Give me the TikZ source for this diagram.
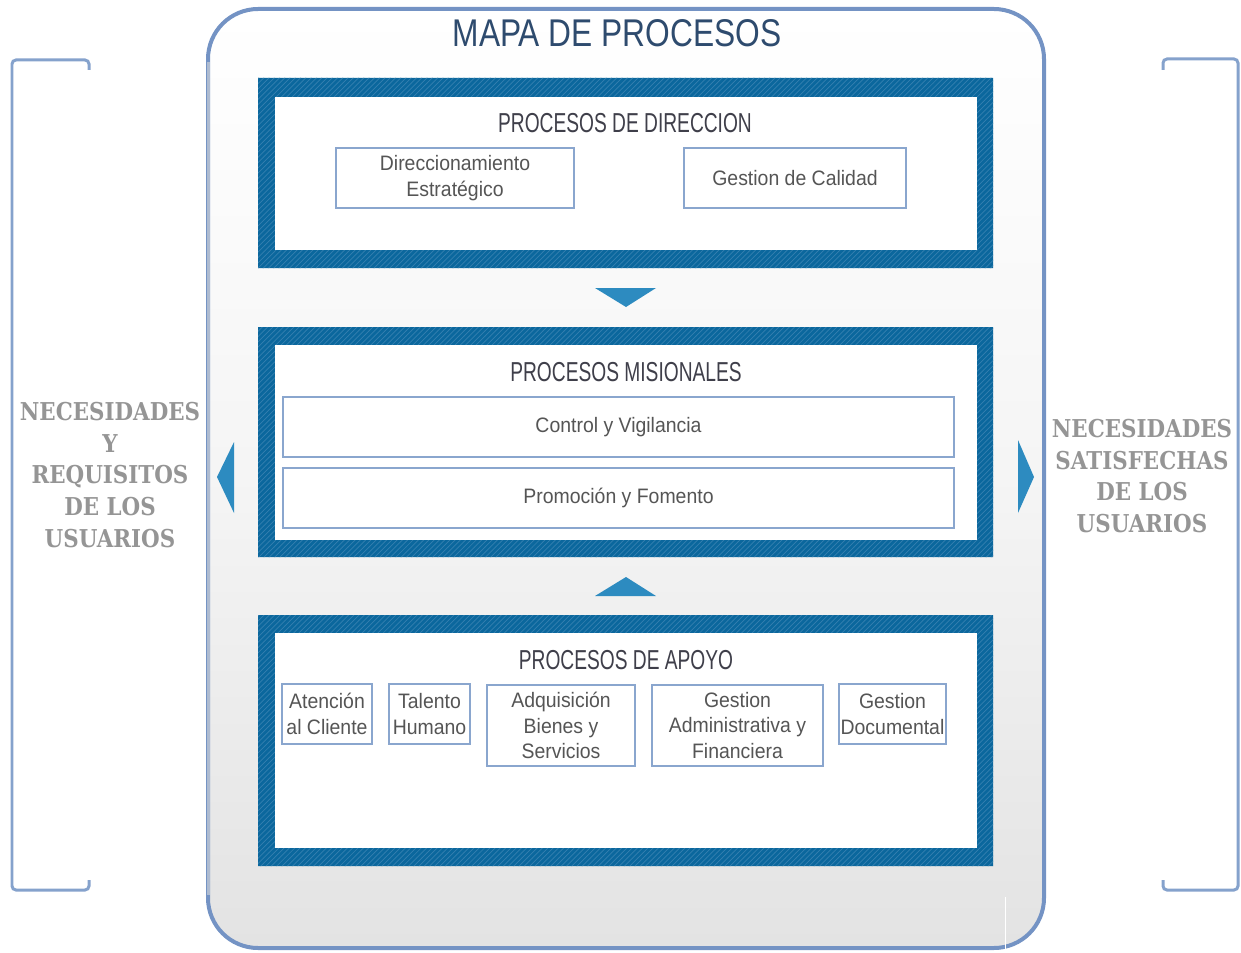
\documentclass[tikz,border=0pt]{standalone}
\usepackage{fontspec}
\setmainfont{Liberation Sans}
\newfontfamily\narrowfont[FakeStretch=0.82]{Liberation Sans}
\newfontfamily\boxfont[FakeStretch=0.93]{Liberation Sans}
\newfontfamily\ttlfont[FakeStretch=0.70]{Liberation Sans}
\newfontfamily\sidefont[FakeStretch=0.87]{DejaVu Serif}
\usetikzlibrary{patterns}
\definecolor{frameblue}{HTML}{0B679D}
\definecolor{hatchc}{HTML}{3580B0}
\definecolor{boxline}{HTML}{8AA6CE}
\definecolor{txtgray}{HTML}{555555}
\definecolor{ttlgray}{HTML}{3F3F4A}
\definecolor{titleblue}{HTML}{2E4B6E}
\definecolor{tric}{HTML}{2D8BC0}
\definecolor{bracketc}{HTML}{85A2CC}
\definecolor{sidegray}{HTML}{959595}
\definecolor{panelb}{HTML}{7493C4}
\definecolor{panell}{HTML}{AEBBD0}
\tikzset{
  pbox/.style={draw=boxline, line width=0.03cm, fill=white, inner sep=0pt,
    align=center, text=txtgray, font=\boxfont\fontsize{11.9}{14.6}\selectfont},
  boxtitle/.style={inner sep=0pt, text=ttlgray, font=\ttlfont\fontsize{15.6}{18}\selectfont},
  frame/.style={fill=frameblue, even odd rule},
  hatch/.style={pattern=north east lines, pattern color=hatchc, even odd rule},
  tri/.style={fill=tric},
  bracket/.style={draw=bracketc, line width=0.06cm, rounded corners=0.08cm},
  sidetext/.style={inner sep=0pt, align=center, text=sidegray,
    font=\sidefont\bfseries\fontsize{14}{18.1}\selectfont}
}
\begin{document}
\begin{tikzpicture}[x=0.02cm, y=-0.02cm]
\useasboundingbox (0,0) rectangle (1241,953);
% outer panel
\path[top color=white, bottom color=black!11, middle color=black!4, rounded corners=1cm]
  (208,9) rectangle (1044,948);
\draw[panelb, line width=0.08cm, rounded corners=1cm] (208,9) rectangle (1044,948);
\draw[panell, line width=0.06cm] (208,62) -- (208,895);
\draw[white, line width=0.02cm] (1005,897) -- (1005,953);
\node[inner sep=0pt, text=titleblue, font=\narrowfont\fontsize{22}{24}\selectfont] (title) at (617,33) {MAPA DE PROCESOS};
% frames
\foreach \ya/\yb/\yc/\yd in {78/268/97/250, 327/557/345/540, 615/866/633/848}{
  \path[frame] (258,\ya) rectangle (993,\yb) (275,\yc) rectangle (977,\yd);
  \path[hatch] (258,\ya) rectangle (993,\yb) (275,\yc) rectangle (977,\yd);
  \fill[white] (275,\yc) rectangle (977,\yd);
}
% Direccion
\node[boxtitle] (t1) at (625,123) {PROCESOS DE DIRECCION};
\node[pbox, minimum width=4.76cm, minimum height=1.2cm] (dir) at (455,178) {Direccionamiento\\Estratégico};
\node[pbox, minimum width=4.44cm, minimum height=1.2cm] (cal) at (795,178) {Gestion de Calidad};
% Misionales
\node[boxtitle] (t2) at (626,372) {PROCESOS MISIONALES};
\node[pbox, minimum width=13.42cm, minimum height=1.2cm] (cv) at (618.5,427) {Control y Vigilancia};
\node[pbox, minimum width=13.42cm, minimum height=1.2cm] (pf) at (618.5,498) {Promoción y Fomento};
% Apoyo
\node[boxtitle] (t3) at (626,660) {PROCESOS DE APOYO};
\node[pbox, minimum width=1.8cm, minimum height=1.2cm] (ac) at (327,714) {Atención\\al Cliente};
\node[pbox, minimum width=1.62cm, minimum height=1.2cm] (th) at (429.5,714) {Talento\\Humano};
\node[pbox, minimum width=2.96cm, minimum height=1.62cm] (ab) at (561,725.5) {Adquisición\\Bienes y\\Servicios};
\node[pbox, minimum width=3.42cm, minimum height=1.62cm] (ga) at (737.5,725.5) {Gestion\\Administrativa y\\Financiera};
\node[pbox, minimum width=2.14cm, minimum height=1.2cm] (gd) at (892.5,714) {Gestion\\Documental};
% triangles
\fill[tri] (595,288) -- (656,288) -- (626,307) -- cycle;
\fill[tri] (595,596) -- (656,596) -- (626,577) -- cycle;
\fill[tri] (234,442) -- (234,513) -- (217,477) -- cycle;
\fill[tri] (1018,440) -- (1018,513) -- (1034,477) -- cycle;
% brackets
\draw[bracket] (89,70) -- (89,60) -- (12,60) -- (12,890) -- (89,890) -- (89,880);
\draw[bracket] (1163,70) -- (1163,59) -- (1238,59) -- (1238,890) -- (1163,890) -- (1163,880);
% side texts
\node[sidetext] (lt) at (110,475) {NECESIDADES\\Y\\REQUISITOS\\DE LOS\\USUARIOS};
\node[sidetext] (rt) at (1142,476) {NECESIDADES\\SATISFECHAS\\DE LOS\\USUARIOS};
\end{tikzpicture}
\end{document}
